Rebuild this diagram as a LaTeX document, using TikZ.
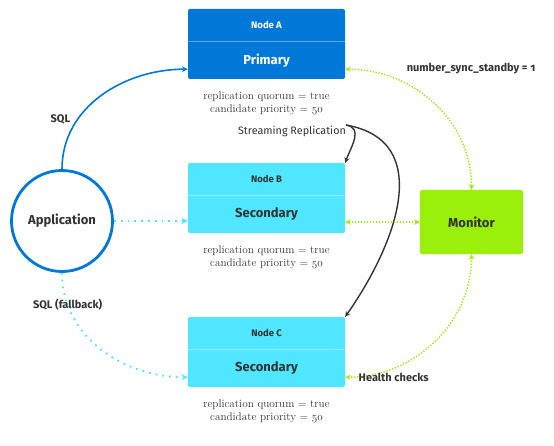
\documentclass[tikz,border=0pt]{standalone}
\usepackage{fontspec}
\setsansfont[Numbers=OldStyle]{Fira Sans}
\usetikzlibrary{arrows,positioning,calc}
\definecolor{pgblue}{RGB}{0,120,215}
\definecolor{pgcyan}{RGB}{80,230,255}
\definecolor{pglime}{RGB}{155,240,11}
\definecolor{pgtext}{RGB}{51,51,51}

\begin{document}
\begin{tikzpicture}[x=1pt,y=1pt,>=stealth,
	pgbox/.style={rectangle,rounded corners=2pt,minimum width=157pt,minimum height=70pt,inner sep=0pt},
	head/.style={font=\sffamily\bfseries\fontsize{9.5}{11}\selectfont},
	role/.style={font=\sffamily\bfseries\fontsize{13}{15}\selectfont},
	notes/.style={font=\fontsize{11.2}{13}\selectfont,text=pgtext,align=center},
	lbl/.style={font=\sffamily\bfseries\fontsize{11}{13}\selectfont,text=pgtext},
	sync/.style={draw=pglime,line width=1.4pt,dash pattern=on 1.4pt off 1.6pt},
	app/.style={draw=pgcyan,line width=1.8pt,dash pattern=on 1.8pt off 5pt}]
	\useasboundingbox (0,0) rectangle (554,445);
	
	%boxes
	\node[pgbox,fill=pgblue] (nodeA) at (266.5,401) {};
	\node[pgbox,fill=pgcyan] (nodeB) at (266.5,247) {};
	\node[pgbox,fill=pgcyan] (nodeC) at (266.5,93) {};
	\foreach \n in {nodeA,nodeB,nodeC}
	\draw[white,opacity=.35,line width=.8pt] ($(\n.north west)+(0,-33)$) -- ($(\n.north east)+(0,-33)$);
	
	%box texts
	\node[head,text=white] (headA) at ($(nodeA.north)+(0,-16)$) {Node A};
	\node[role,text=white] (roleA) at ($(nodeA.south)+(0,19)$) {Primary};
	\node[head,text=pgtext] (headB) at ($(nodeB.north)+(0,-16)$) {Node B};
	\node[role,text=pgtext] (roleB) at ($(nodeB.south)+(0,19)$) {Secondary};
	\node[head,text=pgtext] (headC) at ($(nodeC.north)+(0,-16)$) {Node C};
	\node[role,text=pgtext] (roleC) at ($(nodeC.south)+(0,19)$) {Secondary};
	
	\node[notes,below=9pt of nodeA] (notesA) {replication quorum $=$ true\\candidate priority $=$ $\mathnormal{50}$};
	\node[notes,below=9pt of nodeB] (notesB) {replication quorum $=$ true\\candidate priority $=$ $\mathnormal{50}$};
	\node[notes,below=9pt of nodeC] (notesC) {replication quorum $=$ true\\candidate priority $=$ $\mathnormal{50}$};
	
	\node[rectangle,rounded corners=2pt,fill=pglime,minimum width=103pt,minimum height=64pt,role,text=pgtext] (monitor) at (471.5,223) {Monitor};
	\node[circle,draw=pgblue,line width=2.8pt,minimum size=101pt,inner sep=0pt,role,text=pgtext] (app) at (62,224) {Application};
	
	%connector ends
	\coordinate (aIn) at ($(nodeA.south west)+(0,10)$);
	\coordinate (aOut) at ($(nodeA.south east)+(0,10)$);
	\coordinate (cIn) at ($(nodeC.south west)+(0,10)$);
	\coordinate (cOut) at ($(nodeC.south east)+(0,10)$);
	\coordinate (bIn) at (nodeB.west |- app.center);
	\coordinate (bOut) at (nodeB.east |- monitor.center);
	\coordinate (streamSrc) at (346,320);
	
	%application
	\draw[->,pgblue,line width=1.6pt] (app.north) to[out=90,in=180] node[lbl,pos=.3,left=3pt] {SQL} (aIn);
	\draw[->,app] (app.east) -- (bIn);
	\draw[->,app] (app.south) to[out=-90,in=180] node[lbl,pos=.18] {SQL (fallback)} (cIn);
	
	%replication
	\node[font=\sffamily\fontsize{10.8}{13}\selectfont,text=pgtext] (stream) at (292,314) {Streaming Replication};
	\draw[->,pgtext,line width=1.4pt] (streamSrc) to[out=-10,in=70,looseness=1.2] (nodeB.north east);
	\draw[->,pgtext,line width=1.4pt] (streamSrc) to[out=-10,in=55,looseness=1.2] (nodeC.north east);
	
	%monitor
	\draw[<->,sync] (aOut) to[out=0,in=90] (monitor.north);
	\draw[<->,sync] (bOut) -- (monitor.west);
	\draw[<->,sync] (monitor.south) to[out=-90,in=0] (cOut);
	\node[lbl] (syncLbl) at (471,376) {number\_sync\_standby = 1};
	\node[lbl,right=10pt of cOut] (health) {Health checks};
\end{tikzpicture}
\end{document}
